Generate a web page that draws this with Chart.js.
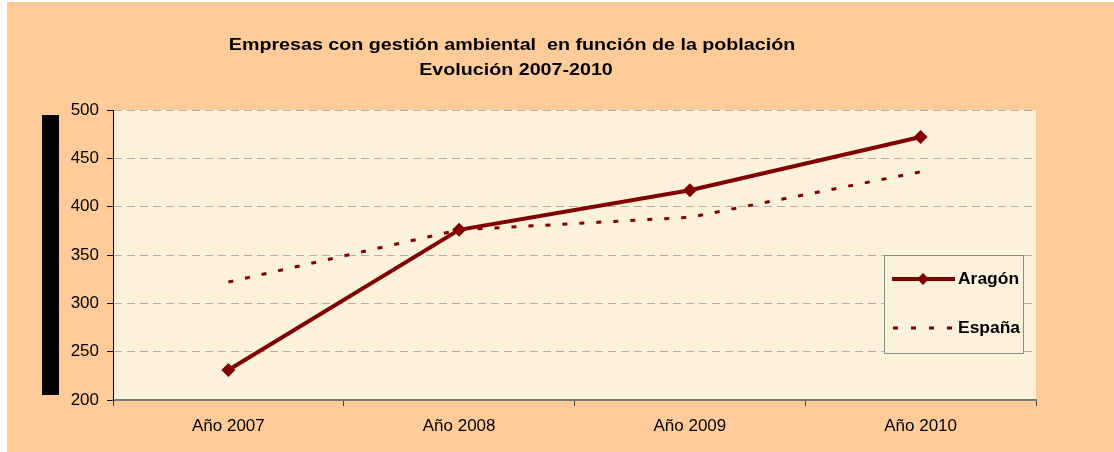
<!DOCTYPE html>
<html>
<head>
<meta charset="utf-8">
<script src="https://cdn.jsdelivr.net/npm/chart.js@4/dist/chart.umd.min.js"></script>
<style>
    html, body { margin: 0; padding: 0; background: #fff; }
    #wrap { width: 1114px; height: 452px; position: relative; }
</style>
</head>
<body>
<div id="wrap"><canvas id="grafico"></canvas></div>
<script>
// --- DATOS ---
const categorias = ["Año 2007", "Año 2008", "Año 2009", "Año 2010"];
const aragon = [231, 376, 417, 472];
const espana = [322, 376, 389, 436];
const tituloLineas = ["Empresas con gestión ambiental  en función de la población", "Evolución 2007-2010"];

const granate = "#800000";
const naranja = "#FFCC99";
const crema = "#FCF2DC";
const fuente = "'Liberation Sans', Arial";

// texto ensanchado en horizontal (el original está estirado)
function textoAncho(c, txt, x, y, escala, align) {
    c.save();
    c.translate(x, y);
    c.scale(escala, 1);
    c.textAlign = align;
    c.fillText(txt, 0, 0);
    c.restore();
}

// fondo naranja, zona del gráfico crema, barra negra, título y leyenda
const decoracion = {
    id: "decoracion",
    beforeDraw(chart) {
        const c = chart.ctx;
        const a = chart.chartArea;
        c.save();
        c.fillStyle = "#fff";
        c.fillRect(0, 0, chart.width, chart.height);
        c.fillStyle = naranja;
        c.fillRect(7, 2, chart.width - 7, chart.height - 2);
        c.fillStyle = crema;
        c.fillRect(a.left, a.top, a.right - a.left, a.bottom - a.top);
        // barra negra a la izquierda
        c.fillStyle = "#000";
        c.fillRect(42, a.top + 5, 17, a.bottom - a.top - 10);
        // título
        c.fillStyle = "#000";
        c.textBaseline = "middle";
        c.font = "bold 16px " + fuente;
        textoAncho(c, tituloLineas[0], 512, 46, 1.23, "center");
        textoAncho(c, tituloLineas[1], 516, 71, 1.23, "center");
        c.restore();
    },
    afterDatasetsDraw(chart) {
        const c = chart.ctx;
        const ds = chart.data.datasets;
        c.save();
        // caja de la leyenda
        c.fillStyle = crema;
        c.fillRect(884, 255, 139, 98);
        c.strokeStyle = "#8a8a8a";
        c.lineWidth = 1;
        c.strokeRect(884.5, 255.5, 139, 98);
        // Aragón
        c.strokeStyle = ds[0].borderColor;
        c.lineWidth = ds[0].borderWidth;
        c.beginPath();
        c.moveTo(892, 279);
        c.lineTo(955, 279);
        c.stroke();
        c.fillStyle = ds[0].borderColor;
        c.beginPath();
        c.moveTo(923, 273);
        c.lineTo(929, 279);
        c.lineTo(923, 285);
        c.lineTo(917, 279);
        c.closePath();
        c.fill();
        // España
        c.strokeStyle = ds[1].borderColor;
        c.lineWidth = ds[1].borderWidth;
        c.setLineDash([5, 13]);
        c.beginPath();
        c.moveTo(893, 328);
        c.lineTo(955, 328);
        c.stroke();
        c.setLineDash([]);
        c.fillStyle = "#000";
        c.font = "bold 16px " + fuente;
        c.textBaseline = "middle";
        textoAncho(c, ds[0].label, 958, 280, 1.09, "left");
        textoAncho(c, ds[1].label, 958, 329, 1.09, "left");
        c.restore();
    }
};

const ctx = document.getElementById("grafico");

new Chart(ctx, {
    type: "line",
    data: {
        labels: categorias,
        datasets: [{
            label: "Aragón",
            data: aragon,
            borderColor: granate,
            backgroundColor: granate,
            borderWidth: 4,
            pointStyle: "rectRot",
            pointRadius: 7,
            pointBackgroundColor: granate,
            pointBorderColor: granate,
            pointBorderWidth: 0,
            tension: 0
        }, {
            label: "España",
            data: espana,
            borderColor: granate,
            backgroundColor: granate,
            borderWidth: 3,
            borderDash: [5, 12],
            pointRadius: 0,
            tension: 0
        }]
    },
    options: {
        responsive: true,
        maintainAspectRatio: false,
        animation: false,
        layout: {
            padding: { left: 0, top: 110, right: 78, bottom: 0 }
        },
        plugins: {
            legend: { display: false },
            title: { display: false },
            tooltip: { enabled: false }
        },
        scales: {
            x: {
                offset: true,
                afterFit: (s) => { s.height = 52; },
                grid: {
                    drawOnChartArea: false,
                    offset: true,
                    tickLength: 6,
                    tickColor: "#444",
                    tickWidth: 1
                },
                border: { color: "#777", width: 2 },
                ticks: {
                    color: "#000",
                    padding: 10,
                    font: { family: fuente, size: 17 }
                }
            },
            y: {
                min: 200,
                max: 500,
                afterFit: (s) => { s.width = 113; },
                grid: {
                    color: "#b0b0b0",
                    tickBorderDash: [],
                    tickColor: "#000",
                    tickLength: 6,
                    lineWidth: 1
                },
                border: { color: "#000", width: 1, dash: [8, 5] },
                ticks: {
                    stepSize: 50,
                    color: "#000",
                    padding: 8,
                    font: { family: fuente, size: 17 }
                }
            }
        }
    },
    plugins: [decoracion]
});
</script>
</body>
</html>
